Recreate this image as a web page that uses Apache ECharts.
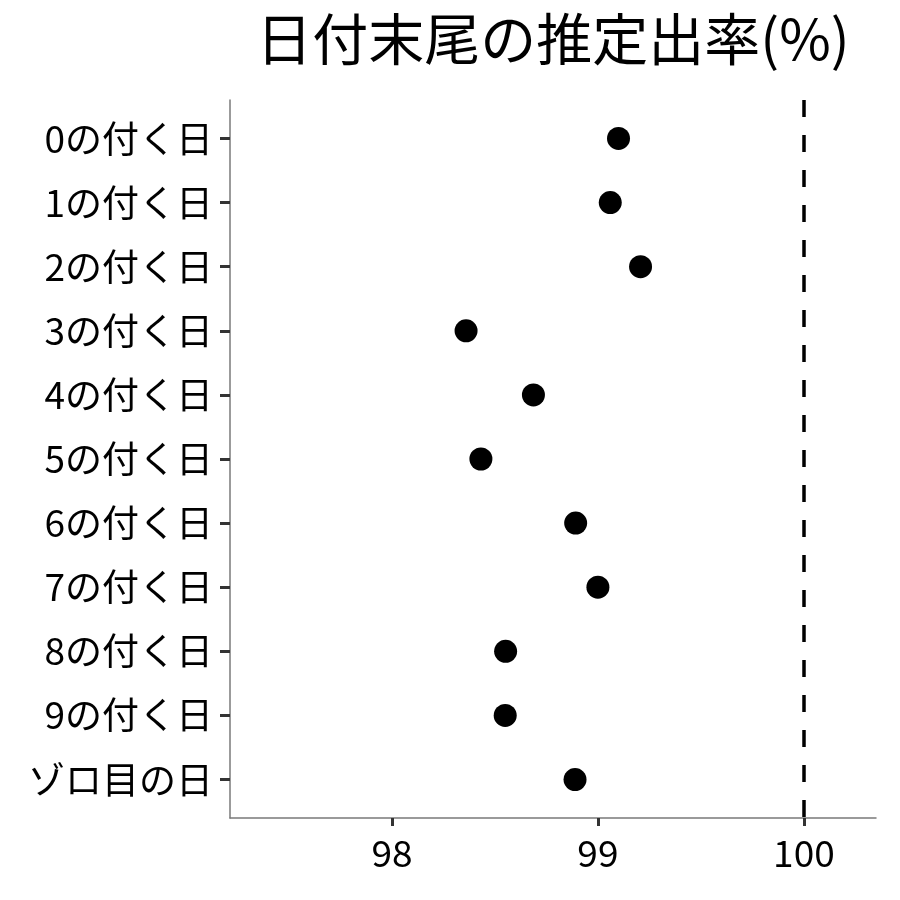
<!DOCTYPE html>
<html>
<head>
<meta charset="utf-8">
<script src="https://cdn.jsdelivr.net/npm/echarts@6/dist/echarts.min.js"></script>
<style>html,body{margin:0;padding:0;background:#fff}#c{width:900px;height:900px}</style>
</head>
<body>
<div id="c"></div>
<script>
const titleText = '日付末尾の推定出率(%)';
const categories = ['0の付く日','1の付く日','2の付く日','3の付く日','4の付く日','5の付く日','6の付く日','7の付く日','8の付く日','9の付く日','ゾロ目の日'];
const rates = [99.10, 99.06, 99.207, 98.36, 98.687, 98.432, 98.892, 99.00, 98.552, 98.55, 98.889];
const xTicks = [98, 99, 100];
const refValue = 100;

const FONT = '"Noto Sans CJK JP", "Noto Sans", sans-serif';
const chart = echarts.init(document.getElementById('c'), null, {renderer: 'canvas'});
const idx = categories.map((_, i) => i);
chart.setOption({
  animation: false,
  backgroundColor: '#fff',
  title: {
    text: titleText,
    left: 548,
    textAlign: 'center',
    top: 6,
    textStyle: {fontFamily: FONT, fontSize: 56, fontWeight: 'normal', color: '#000'}
  },
  grid: {left: 230, right: 24, top: 100, bottom: 82, containLabel: false},
  xAxis: {
    type: 'value',
    min: 97.214,
    max: 100.35,
    splitLine: {show: false},
    axisLine: {show: true, onZero: false, lineStyle: {color: '#7a7a7a', width: 1.5}},
    axisTick: {show: true, customValues: xTicks, length: 8, lineStyle: {color: '#333', width: 3}},
    axisLabel: {customValues: xTicks, margin: 16, fontFamily: FONT, fontSize: 37, color: '#000'}
  },
  yAxis: {
    type: 'value',
    inverse: true,
    min: -0.6,
    max: categories.length - 1 + 0.6,
    splitLine: {show: false},
    axisLine: {show: true, onZero: false, lineStyle: {color: '#7a7a7a', width: 1.5}},
    axisTick: {show: true, customValues: idx, length: 10, lineStyle: {color: '#333', width: 3}},
    axisLabel: {
      customValues: idx, margin: 17, fontFamily: FONT, fontSize: 37, color: '#000',
      formatter: v => categories[Math.round(v)]
    }
  },
  series: [{
    type: 'scatter',
    symbol: 'circle',
    symbolSize: 23,
    itemStyle: {color: '#000', opacity: 1},
    data: rates.map((r, i) => [r, i]),
    markLine: {
      silent: true,
      symbol: 'none',
      label: {show: false},
      lineStyle: {color: '#000', width: 3.5, type: [17, 18]},
      data: [{xAxis: refValue}]
    }
  }]
});
</script>
</body>
</html>
